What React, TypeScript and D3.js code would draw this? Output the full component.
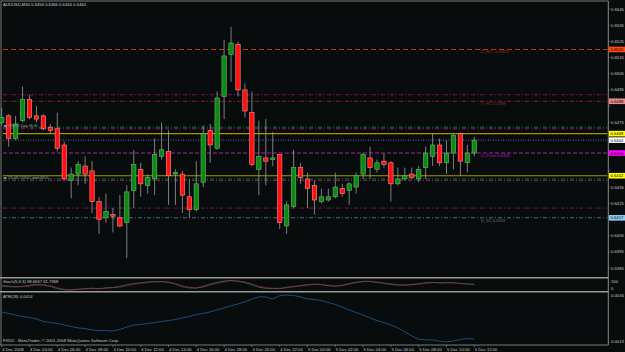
import React from "react";
import * as d3 from "d3";

const symbolTitle = "AUDUSD,M30  0.6456 0.6466 0.6454 0.6464";
const timeLabels = ["4 Dec 2008","4 Dec 04:00","4 Dec 06:00","4 Dec 08:00","4 Dec 10:00","4 Dec 12:00","4 Dec 14:00","4 Dec 16:00","4 Dec 18:00","4 Dec 20:00","4 Dec 22:00","5 Dec 00:00","5 Dec 02:00","5 Dec 04:00","5 Dec 06:00","5 Dec 08:00","5 Dec 10:00","5 Dec 12:00"];
const timeLabelBars = [0,4,8,12,16,20,24,28,32,36,40,44,48,52,56,60,64,68];

const opens = [0.6475,0.6479,0.6465,0.6476,0.6489,0.6479,0.6479,0.6472,0.6471,0.6461,0.6439,0.6443,0.6448,0.6445,0.6426,0.6416,0.6418,0.6416,0.6413,0.6433,0.6446,0.6436,0.6440,0.6454,0.6457,0.6443,0.6443,0.6429,0.6421,0.6438,0.6470,0.6459,0.6491,0.6517,0.6523,0.6495,0.6481,0.6446,0.6453,0.6452,0.6455,0.6411,0.6423,0.6447,0.6440,0.6436,0.6426,0.6427,0.6429,0.6434,0.6433,0.6435,0.6443,0.6453,0.6446,0.6451,0.6450,0.6437,0.6440,0.6443,0.6440,0.6447,0.6454,0.6461,0.6450,0.6456,0.6468,0.6450,0.6456];
const highs = [0.6484,0.6480,0.6479,0.6497,0.6492,0.6485,0.6480,0.6474,0.6481,0.6463,0.6447,0.6451,0.6454,0.6451,0.6429,0.6431,0.6422,0.6430,0.6436,0.6458,0.6450,0.6443,0.6465,0.6475,0.6470,0.6446,0.6445,0.6440,0.6451,0.6473,0.6474,0.6494,0.6526,0.6534,0.6525,0.6499,0.6494,0.6476,0.6477,0.6469,0.6455,0.6426,0.6458,0.6450,0.6444,0.6439,0.6434,0.6434,0.6444,0.6437,0.6438,0.6444,0.6456,0.6460,0.6452,0.6456,0.6451,0.6447,0.6447,0.6447,0.6448,0.6460,0.6468,0.6465,0.6464,0.6468,0.6468,0.6461,0.6466];
const lows = [0.6473,0.6460,0.6464,0.6475,0.6477,0.6475,0.6470,0.6468,0.6457,0.6439,0.6428,0.6436,0.6437,0.6419,0.6406,0.6413,0.6407,0.6410,0.6391,0.6422,0.6429,0.6431,0.6430,0.6452,0.6424,0.6424,0.6419,0.6416,0.6420,0.6435,0.6450,0.6458,0.6477,0.6500,0.6491,0.6478,0.6448,0.6430,0.6436,0.6448,0.6409,0.6406,0.6422,0.6437,0.6422,0.6418,0.6425,0.6426,0.6428,0.6429,0.6424,0.6431,0.6440,0.6440,0.6444,0.6447,0.6426,0.6436,0.6439,0.6440,0.6438,0.6440,0.6448,0.6448,0.6443,0.6446,0.6442,0.6444,0.6454];
const closes = [0.6478,0.6465,0.6474,0.6489,0.6478,0.6477,0.6471,0.6470,0.6459,0.6440,0.6443,0.6449,0.6443,0.6426,0.6415,0.6420,0.6417,0.6411,0.6432,0.6449,0.6437,0.6441,0.6455,0.6458,0.6442,0.6444,0.6430,0.6421,0.6437,0.6468,0.6461,0.6490,0.6516,0.6524,0.6495,0.6482,0.6449,0.6454,0.6451,0.6453,0.6413,0.6424,0.6447,0.6441,0.6434,0.6427,0.6429,0.6429,0.6435,0.6431,0.6437,0.6442,0.6455,0.6447,0.6450,0.6449,0.6437,0.6440,0.6442,0.6441,0.6446,0.6456,0.6461,0.6450,0.6456,0.6467,0.6451,0.6456,0.6464];

const stochMain = [42,35,32,38,50,58,52,38,15,2,0,8,15,18,12,22,26,38,55,68,76,84,88,89,80,62,35,22,20,38,62,80,94,100,92,78,55,30,18,16,14,28,38,46,56,62,56,45,40,50,68,82,92,90,80,70,60,52,52,58,66,76,80,74,78,76,70,62,59];
const stochSignal = [50,45,37,35,40,50,55,45,25,7,3,5,10,17,15,20,23,30,45,60,70,80,85,87,85,70,45,30,23,30,50,70,85,97,95,85,65,40,25,20,17,23,33,40,50,60,60,50,43,45,60,75,87,90,85,75,65,57,53,55,60,70,77,77,75,77,68,64,62];
const atrValues = [0.00264,0.00257,0.00250,0.00243,0.00239,0.00232,0.00221,0.00216,0.00212,0.00205,0.00198,0.00192,0.00189,0.00183,0.00180,0.00180,0.00178,0.00185,0.00196,0.00205,0.00207,0.00212,0.00216,0.00221,0.00225,0.00230,0.00237,0.00243,0.00252,0.00257,0.00264,0.00273,0.00282,0.00291,0.00300,0.00309,0.00322,0.00332,0.00331,0.00322,0.00337,0.00340,0.00338,0.00331,0.00322,0.00320,0.00315,0.00306,0.00297,0.00286,0.00273,0.00261,0.00250,0.00237,0.00225,0.00216,0.00205,0.00192,0.00174,0.00156,0.00141,0.00138,0.00138,0.00133,0.00129,0.00133,0.00140,0.00144,0.00142];

const priceTicks = [0.6545,0.6535,0.6525,0.6515,0.6505,0.6495,0.6485,0.6475,0.6465,0.6455,0.6445,0.6435,0.6425,0.6415,0.6405,0.6395,0.6385];

const levelValues = [0.6520,0.6492,0.6488,0.6472,0.6471,0.6468,0.6464,0.6456,0.6442,0.6440,0.6439,0.6422,0.6416];
const levelNames = ["D_R2 - 0.6520","","D_R1 0.6488","","","","","D_Pivot 0.6456","","","","","D_S1 0.6416"];
const levelTags = ["0.6520","","0.6488","","","0.6468","0.6464","0.6456","0.6442","","","","0.6417"];

const levelStyle = [
  { c: "#c03808", d: "5,3", w: 1.1 },
  { c: "#701a5c", d: "4,2,1,2", w: 1 },
  { c: "#862626", d: "4,2,1,2", w: 1 },
  { c: "#1d6b30", d: "4,2,1,2", w: 1 },
  { c: "#7e1d66", d: "4,2,1,2", w: 1 },
  { c: "#a49a00", d: "", w: 1.2 },
  { c: "#6a6a6a", d: "1,1.5", w: 1 },
  { c: "#741a6c", d: "4,2", w: 1.6 },
  { c: "#a49a00", d: "", w: 1.2 },
  { c: "#1d6b30", d: "4,2,1,2", w: 1 },
  { c: "#7e1d66", d: "4,2,1,2", w: 1 },
  { c: "#701a5c", d: "4,2,1,2", w: 1 },
  { c: "#566c7a", d: "4,2,1,2", w: 1 },
];
const tagColors = ["#ff4a10","","#f08a8a","","","#ffff00","#ffffff","#ff00ff","#ffff00","","","","#8ccff0"];
const nameColors = ["#a83010","","#8a2a2a","","","","","#c010c0","","","","","#5a7a90"];

const W = 625, H = 352;
const FONT = "'Liberation Sans', Arial, sans-serif";
const FS = 4.2;

export default function App() {
  const n = opens.length;
  const x = d3.scaleLinear().domain([0, n - 1]).range([1.7, 474.3]);
  const y = d3.scaleLinear().domain([0.6385, 0.6545]).range([268, 9]);
  const sy = d3.scaleLinear().domain([0, 100]).range([290, 280.5]);
  const ay = d3.scaleLinear().domain([0.0013, 0.0034]).range([341.7, 295]);
  const axisX = 608.3;
  const bodyW = 4.4;

  const mainPath = d3.line<number>().x((_, i) => x(i)).y((v) => sy(v))(stochMain) || "";
  const sigPath = d3.line<number>().x((_, i) => x(i)).y((v) => sy(v))(stochSignal) || "";
  const atrPath = d3.line<number>().x((_, i) => x(i)).y((v) => ay(v))(atrValues) || "";

  const tagYs = levelValues.filter((_, i) => levelTags[i]).map((v) => y(v));
  const hidden = (t: number) => tagYs.some((ty) => Math.abs(ty - y(t)) < 5.5);

  return (
    <svg width={W} height={H} style={{ position: "absolute", left: 0, top: 0, background: "#080c0c" }} fontFamily={FONT}>
      <rect x={0} y={0} width={W} height={H} fill="#080c0c" />
      <line x1={0.5} y1={1} x2={axisX} y2={1} stroke="#7a7a7a" strokeWidth={1} />
      <line x1={1} y1={1} x2={1} y2={345} stroke="#7a7a7a" strokeWidth={1} />
      <line x1={axisX} y1={1} x2={axisX} y2={345} stroke="#8a8a8a" strokeWidth={1} />
      <line x1={0} y1={277.8} x2={axisX} y2={277.8} stroke="#9a9a9a" strokeWidth={1.6} />
      <line x1={0} y1={291.8} x2={axisX} y2={291.8} stroke="#9a9a9a" strokeWidth={1.6} />
      <line x1={0} y1={345} x2={axisX} y2={345} stroke="#7a7a7a" strokeWidth={1} />

      {levelValues.map((v, i) => (
        <line key={"lv" + i} x1={3} x2={axisX - 1} y1={y(v)} y2={y(v)} stroke={levelStyle[i].c} strokeWidth={levelStyle[i].w} strokeDasharray={levelStyle[i].d} />
      ))}
      {levelValues.map((v, i) =>
        levelNames[i] ? (
          <text key={"ln" + i} x={481} y={y(v) + 4} fontSize={FS} fill={nameColors[i]}>{levelNames[i]}</text>
        ) : null
      )}

      {opens.map((o, i) => {
        const c = closes[i];
        const up = c >= o;
        const top = y(Math.max(o, c));
        const bot = y(Math.min(o, c));
        return (
          <g key={"c" + i}>
            <line x1={x(i)} x2={x(i)} y1={y(highs[i])} y2={y(lows[i])} stroke="#9a9a9a" strokeWidth={0.8} />
            <rect x={x(i) - bodyW / 2} y={top} width={bodyW} height={Math.max(bot - top, 1)}
              fill={up ? "#0c8a14" : "#ff1010"} stroke={up ? "#6ab86a" : "#ff8c8c"} strokeWidth={0.6} />
          </g>
        );
      })}

      <text x={3} y={6} fontSize={FS} fill="#d0d0d0">{symbolTitle}</text>
      <text x={4} y={126.5} fontSize={FS} fill="#9a9a9a">■ 78809 Day Hi 8:</text>
      <text x={4} y={178.5} fontSize={FS} fill="#9a9a9a">■ 23:48:70942 ddd 85%</text>

      {priceTicks.map((t, i) => (
        <g key={"pt" + i}>
          <line x1={axisX} x2={axisX + 2} y1={y(t)} y2={y(t)} stroke="#8a8a8a" strokeWidth={0.6} />
          {hidden(t) ? null : <text x={611} y={y(t) + 1.5} fontSize={FS} fill="#c8c8c8">{t.toFixed(4)}</text>}
        </g>
      ))}
      {levelValues.map((v, i) =>
        levelTags[i] ? (
          <g key={"tg" + i}>
            <rect x={609} y={y(v) - 2.8} width={16} height={5.6} fill={tagColors[i]} />
            <text x={610.5} y={y(v) + 1.5} fontSize={FS} fill="#000">{levelTags[i]}</text>
          </g>
        ) : null
      )}

      <path d={mainPath} fill="none" stroke="#1f8a3c" strokeWidth={0.8} />
      <path d={sigPath} fill="none" stroke="#c0106a" strokeWidth={0.8} strokeDasharray="1.5,0.7" />
      <text x={3} y={283} fontSize={FS} fill="#c8c8c8">Stoch(5,3,3) 58.6667 61.7968</text>
      <text x={611} y={282.5} fontSize={FS} fill="#c8c8c8">100</text>
      <text x={611} y={289.5} fontSize={FS} fill="#c8c8c8">0</text>

      <path d={atrPath} fill="none" stroke="#1a4e7c" strokeWidth={1} />
      <text x={3} y={297.5} fontSize={FS} fill="#c8c8c8">ATR(28) 0.0014</text>
      <text x={611} y={296.5} fontSize={FS} fill="#c8c8c8">0.0034</text>
      <text x={611} y={342.5} fontSize={FS} fill="#c8c8c8">0.0013</text>
      <text x={3} y={342} fontSize={FS} fill="#c8c8c8">FXDD - MetaTrader, © 2001-2008 MetaQuotes Software Corp.</text>

      {timeLabels.map((t, i) => (
        <g key={"tl" + i}>
          <line x1={x(timeLabelBars[i])} x2={x(timeLabelBars[i])} y1={345} y2={347} stroke="#8a8a8a" strokeWidth={0.6} />
          <text x={x(timeLabelBars[i]) + 0.5} y={350.5} fontSize={FS} fill="#c8c8c8">{t}</text>
        </g>
      ))}
    </svg>
  );
}
